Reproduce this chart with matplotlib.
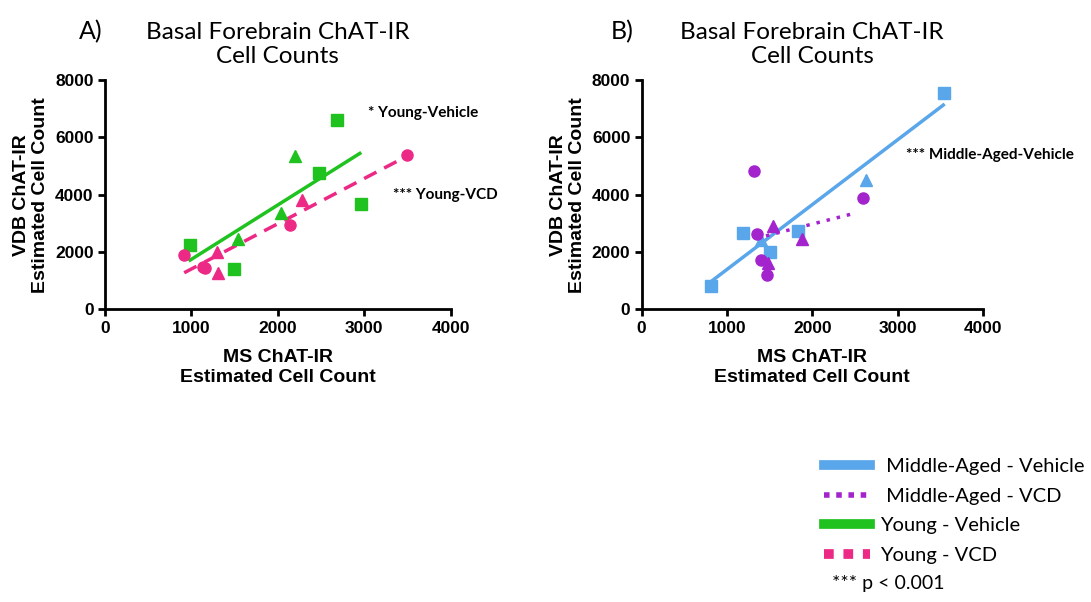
import matplotlib.pyplot as plt
from matplotlib.lines import Line2D

# panel A - young animals
yv_sq_x = [981, 1490, 2483, 2691, 2965]
yv_sq_y = [2256, 1395, 4744, 6605, 3663]
yv_tri_x = [1537, 2035, 2197]
yv_tri_y = [2442, 3349, 5349]
yv_fit_x = [988, 2950]
yv_fit_y = [1721, 5442]

yc_circ_x = [919, 1140, 1165, 2147, 3498]
yc_circ_y = [1884, 1480, 1455, 2942, 5384]
yc_tri_x = [1297, 1305, 2278]
yc_tri_y = [2012, 1279, 3814]
yc_fit_x = [919, 3467]
yc_fit_y = [1279, 5302]

# panel B - middle-aged animals
mv_sq_x = [809, 1184, 1504, 1836, 3547]
mv_sq_y = [826, 2651, 2012, 2733, 7558]
mv_tri_x = [1398, 2625]
mv_tri_y = [2419, 4512]
mv_fit_x = [801, 3535]
mv_fit_y = [942, 7128]

mc_circ_x = [1316, 1352, 1395, 1465, 2590]
mc_circ_y = [4826, 2628, 1721, 1198, 3872]
mc_tri_x = [1535, 1477, 1879]
mc_tri_y = [2919, 1605, 2453]
mc_fit_x = [1340, 2520]
mc_fit_y = [2477, 3372]

x_ticks = [0, 1000, 2000, 3000, 4000]
y_ticks = [0, 2000, 4000, 6000, 8000]

green = '#1fc21f'
pink = '#ec2a86'
blue = '#5aa6ea'
purple = '#a324cc'

title_font = 'Lato'
lab_font = 'Liberation Sans'

fig = plt.figure(figsize=(10.91, 6.02), dpi=100)
axA = fig.add_axes([0.096, 0.486, 0.317, 0.381])
axB = fig.add_axes([0.588, 0.486, 0.313, 0.381])


def style_ax(ax):
    ax.set_xlim(0, 4000)
    ax.set_ylim(0, 8000)
    ax.set_xticks(x_ticks)
    ax.set_yticks(y_ticks)
    for s in ['top', 'right']:
        ax.spines[s].set_visible(False)
    for s in ['left', 'bottom']:
        ax.spines[s].set_linewidth(2)
    ax.tick_params(width=2, length=5, labelsize=12.5, pad=3)
    for lb in ax.get_xticklabels() + ax.get_yticklabels():
        lb.set_fontweight('bold')
        lb.set_fontfamily(lab_font)
    ax.set_xlabel('MS ChAT-IR\nEstimated Cell Count', fontsize=14,
                  fontweight='bold', family=lab_font, labelpad=10, linespacing=1.2)
    ax.set_ylabel('VDB ChAT-IR\nEstimated Cell Count', fontsize=14,
                  fontweight='bold', family=lab_font, labelpad=4, linespacing=1.2)
    ax.set_title('Basal Forebrain ChAT-IR\nCell Counts', fontsize=17.5,
                 family=title_font, pad=12, linespacing=1.2)


# A
axA.plot(yv_fit_x, yv_fit_y, color=green, lw=2.5)
axA.plot(yc_fit_x, yc_fit_y, color=pink, lw=2.5, ls=(0, (4, 2.5)))
axA.plot(yv_sq_x, yv_sq_y, 's', color=green, ms=8, ls='none')
axA.plot(yv_tri_x, yv_tri_y, '^', color=green, ms=8, ls='none')
axA.plot(yc_circ_x, yc_circ_y, 'o', color=pink, ms=8, ls='none')
axA.plot(yc_tri_x, yc_tri_y, '^', color=pink, ms=8, ls='none')
style_ax(axA)
axA.text(3050, 6850, '* Young-Vehicle', fontsize=11, fontweight='bold',
         family=title_font, va='center', clip_on=False)
axA.text(3330, 3985, '*** Young-VCD', fontsize=11, fontweight='bold',
         family=title_font, va='center', clip_on=False)

# B
axB.plot(mv_fit_x, mv_fit_y, color=blue, lw=2.5)
axB.plot(mc_fit_x, mc_fit_y, color=purple, lw=2.5, ls=(0, (1, 2)))
axB.plot(mv_sq_x, mv_sq_y, 's', color=blue, ms=8, ls='none')
axB.plot(mv_tri_x, mv_tri_y, '^', color=blue, ms=8, ls='none')
axB.plot(mc_circ_x, mc_circ_y, 'o', color=purple, ms=8, ls='none')
axB.plot(mc_tri_x, mc_tri_y, '^', color=purple, ms=8, ls='none')
style_ax(axB)
axB.text(3100, 5385, '*** Middle-Aged-Vehicle', fontsize=11, fontweight='bold',
         family=title_font, va='center', clip_on=False)

fig.text(0.072, 0.948, 'A)', fontsize=18, family=title_font, va='center')
fig.text(0.56, 0.948, 'B)', fontsize=18, family=title_font, va='center')

# legend
handles = [
    Line2D([], [], color=blue, lw=7),
    Line2D([], [], color=purple, lw=4, ls=(0, (1, 1.2))),
    Line2D([], [], color=green, lw=7),
    Line2D([], [], color=pink, lw=7, ls=(0, (1, 1))),
]
labels = [' Middle-Aged - Vehicle', ' Middle-Aged - VCD', 'Young - Vehicle', 'Young - VCD']
fig.legend(handles, labels, loc='upper left', bbox_to_anchor=(0.748, 0.253),
           frameon=False, prop={'family': title_font, 'size': 14.5},
           handlelength=2.3, handletextpad=0.5, labelspacing=0.63,
           borderaxespad=0)
fig.text(0.763, 0.03, '*** p < 0.001', fontsize=14, family=title_font, va='center')

fig.savefig('out.png', dpi=100)
